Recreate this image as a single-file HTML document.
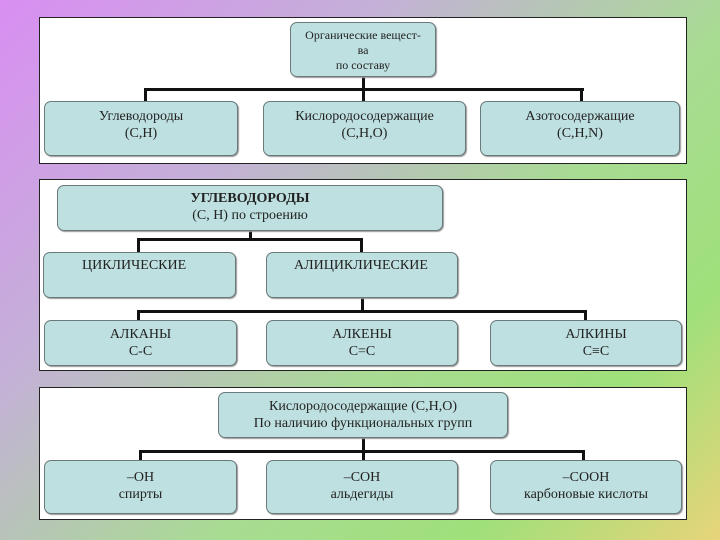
<!DOCTYPE html>
<html><head><meta charset="utf-8"><style>
body{margin:0;width:720px;height:540px;overflow:hidden;position:relative;
background:linear-gradient(135deg,#d98ef2 0%,#c4b0d8 30%,#a8dc92 60%,#9fe07a 80%,#e8d47a 100%);
font-family:"Liberation Serif","DejaVu Serif",serif;color:#222;}
.p{position:absolute;left:39px;width:646px;background:#fff;border:1px solid #222;}
.b{position:absolute;background:#bfe0e0;border:1.5px solid #6a7a7a;border-radius:7px;box-sizing:border-box;
text-align:center;font-size:14px;line-height:17px;padding-top:5px;box-shadow:1px 1px 1px #999;}
.l{position:absolute;background:#111;}
</style></head><body>
<div class="p" style="top:17px;height:145px"></div>
<div class="p" style="top:179px;height:190px"></div>
<div class="p" style="top:387px;height:131px"></div>

<!-- panel 1 -->
<div class="l" style="left:362px;top:77px;width:3px;height:25px"></div>
<div class="l" style="left:144px;top:88px;width:440px;height:3px"></div>
<div class="l" style="left:144px;top:88px;width:3px;height:14px"></div>
<div class="l" style="left:580px;top:88px;width:3px;height:14px"></div>
<div class="b" style="left:290px;top:22px;width:146px;height:55px;font-size:12px;line-height:15px;padding-top:5px">Органические вещест-<br>ва<br>по составу</div>
<div class="b" style="left:44px;top:101px;width:194px;height:55px;padding-top:6px">Углеводороды<br>(C,H)</div>
<div class="b" style="left:263px;top:101px;width:203px;height:55px;padding-top:6px">Кислородосодержащие<br>(C,H,O)</div>
<div class="b" style="left:480px;top:101px;width:200px;height:55px;padding-top:6px">Азотосодержащие<br>(C,H,N)</div>

<!-- panel 2 -->
<div class="l" style="left:249px;top:231px;width:3px;height:10px"></div>
<div class="l" style="left:137px;top:238px;width:226px;height:3px"></div>
<div class="l" style="left:137px;top:238px;width:3px;height:14px"></div>
<div class="l" style="left:360px;top:238px;width:3px;height:14px"></div>
<div class="l" style="left:361px;top:298px;width:3px;height:14px"></div>
<div class="l" style="left:137px;top:310px;width:450px;height:3px"></div>
<div class="l" style="left:137px;top:310px;width:3px;height:10px"></div>
<div class="l" style="left:584px;top:310px;width:3px;height:10px"></div>
<div class="b" style="left:57px;top:185px;width:386px;height:46px;padding-top:4px"><b>УГЛЕВОДОРОДЫ</b><br>(C, H) по строению</div>
<div class="b" style="left:43px;top:252px;width:193px;height:46px;text-align:left;padding-left:38px;padding-top:4px">ЦИКЛИЧЕСКИЕ</div>
<div class="b" style="left:266px;top:252px;width:192px;height:46px;text-align:left;padding-left:27px;padding-top:4px">АЛИЦИКЛИЧЕСКИЕ</div>
<div class="b" style="left:44px;top:320px;width:193px;height:46px">АЛКАНЫ<br>C-C</div>
<div class="b" style="left:266px;top:320px;width:192px;height:46px">АЛКЕНЫ<br>C=C</div>
<div class="b" style="left:490px;top:320px;width:192px;height:46px;padding-left:20px">АЛКИНЫ<br>C≡C</div>

<!-- panel 3 -->
<div class="l" style="left:362px;top:438px;width:3px;height:22px"></div>
<div class="l" style="left:139px;top:450px;width:446px;height:3px"></div>
<div class="l" style="left:139px;top:450px;width:3px;height:10px"></div>
<div class="l" style="left:582px;top:450px;width:3px;height:10px"></div>
<div class="b" style="left:218px;top:392px;width:290px;height:46px;padding-top:5px">Кислородосодержащие (C,H,O)<br>По наличию функциональных групп</div>
<div class="b" style="left:44px;top:460px;width:193px;height:54px;padding-top:8px">–OH<br>спирты</div>
<div class="b" style="left:266px;top:460px;width:192px;height:54px;padding-top:8px">–COH<br>альдегиды</div>
<div class="b" style="left:490px;top:460px;width:192px;height:54px;padding-top:8px">–COOH<br>карбоновые кислоты</div>
</body></html>
